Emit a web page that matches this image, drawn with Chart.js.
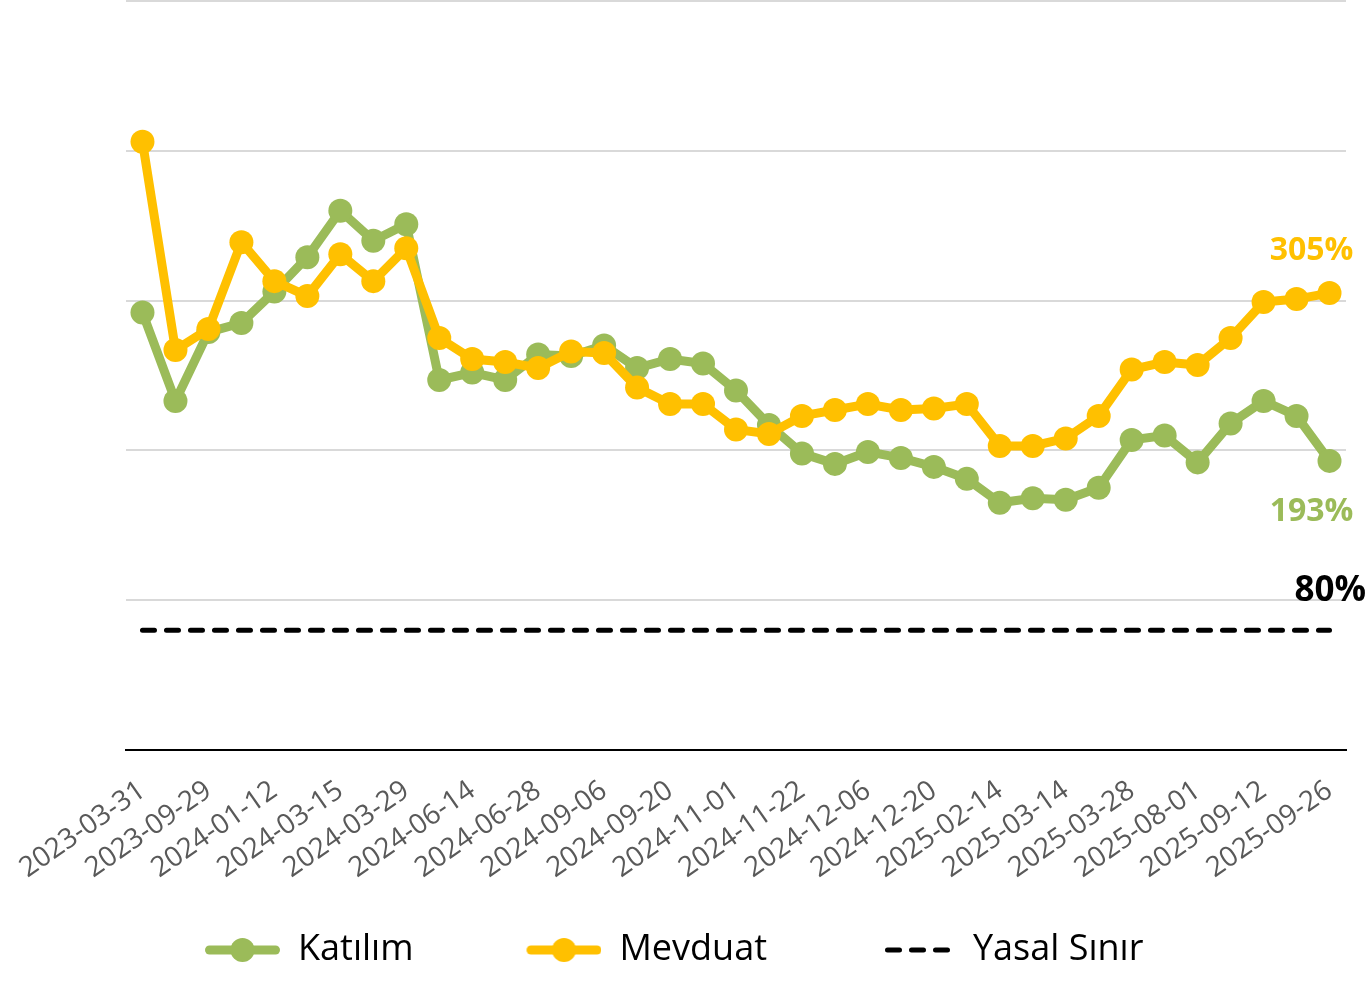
<!DOCTYPE html>
<html>
<head>
<meta charset="utf-8">
<script src="https://cdn.jsdelivr.net/npm/chart.js@4.4.1/dist/chart.umd.min.js"></script>
<style>
  html, body { margin: 0; padding: 0; background: #ffffff; }
  #wrap { width: 1365px; height: 983px; position: relative; }
</style>
</head>
<body>
<div id="wrap"><canvas id="c" width="1365" height="983"></canvas></div>
<script>
// ---- data ----
const categories = [
  '2023-03-31','2023-06-30','2023-09-29','2023-12-29','2024-01-12','2024-02-16',
  '2024-03-15','2024-03-22','2024-03-29','2024-05-31','2024-06-14','2024-06-21',
  '2024-06-28','2024-08-30','2024-09-06','2024-09-13','2024-09-20','2024-10-25',
  '2024-11-01','2024-11-15','2024-11-22','2024-11-29','2024-12-06','2024-12-13',
  '2024-12-20','2025-01-31','2025-02-14','2025-02-28','2025-03-14','2025-03-21',
  '2025-03-28','2025-06-27','2025-08-01','2025-08-29','2025-09-12','2025-09-19',
  '2025-09-26'
];
const katilim = [
  292, 233, 279, 285, 306, 329, 360, 340, 351, 247, 252, 247,
  264, 263, 270, 255, 261, 258, 240, 217, 198, 191, 199, 195,
  189, 181, 165, 168, 167, 175, 207, 210, 192, 218, 233, 223,
  193
];
const mevduat = [
  406, 267, 281, 339, 313, 303, 331, 313, 335, 275, 261, 259,
  255, 266, 265, 242, 231, 231, 214, 211, 223, 227, 231, 227,
  228, 231, 203, 203, 208, 223, 254, 259, 257, 275, 299, 301,
  305
];
const yasalSinirValue = 80;
const yasalSinir = categories.map(() => yasalSinirValue);
const seriesNames = ['Katılım', 'Mevduat', 'Yasal Sınır'];
const yTicks = [0, 100, 200, 300, 400, 500];

// ---- styles ----
const GREEN = '#9BBB59';
const YELLOW = '#FFC000';
const FONT = "'Open Sans', 'Noto Sans', sans-serif";
const LEGEND_BOX = 178;

function makeLegendMarker(kind, color) {
  const cv = document.createElement('canvas');
  cv.width = LEGEND_BOX; cv.height = 30;
  const g = cv.getContext('2d');
  const cy = 15;
  if (kind === 'dash') {
    g.strokeStyle = color; g.lineWidth = 5; g.lineCap = 'round';
    g.setLineDash([12, 12]);
    g.beginPath(); g.moveTo(LEGEND_BOX - 70 + 2.5, cy); g.lineTo(LEGEND_BOX - 4, cy); g.stroke();
  } else {
    g.strokeStyle = color; g.lineWidth = 9; g.lineCap = 'round';
    g.beginPath(); g.moveTo(LEGEND_BOX - 75 + 4.5, cy); g.lineTo(LEGEND_BOX - 4.5, cy); g.stroke();
    g.fillStyle = color;
    g.beginPath(); g.arc(LEGEND_BOX - 37.5, cy, 12, 0, Math.PI * 2); g.fill();
  }
  return cv;
}
const legendMarkers = [
  makeLegendMarker('line', GREEN),
  makeLegendMarker('line', YELLOW),
  makeLegendMarker('dash', '#000000')
];

const endLabels = {
  id: 'endLabels',
  afterDatasetsDraw(chart) {
    const ctx = chart.ctx;
    const last = categories.length - 1;
    const xs = chart.scales.x, ys = chart.scales.y;
    const px = xs.getPixelForValue(last);
    ctx.save();
    ctx.textBaseline = 'middle';
    // Mevduat
    ctx.font = "bold 32px " + FONT;
    ctx.textAlign = 'center';
    ctx.fillStyle = YELLOW;
    ctx.fillText(Math.round(mevduat[last]) + '%', px - 18, ys.getPixelForValue(mevduat[last]) - 42);
    // Katilim
    ctx.fillStyle = GREEN;
    ctx.fillText(Math.round(katilim[last]) + '%', px - 18, ys.getPixelForValue(katilim[last]) + 51);
    // Yasal sinir
    ctx.font = "bold 35px " + FONT;
    ctx.textAlign = 'left';
    ctx.fillStyle = '#000000';
    ctx.fillText(yasalSinirValue + '%', px - 35, ys.getPixelForValue(yasalSinirValue) - 39);
    ctx.restore();
  }
};

new Chart(document.getElementById('c'), {
  type: 'line',
  data: {
    labels: categories,
    datasets: [
      {
        label: seriesNames[0], data: katilim, order: 2,
        borderColor: GREEN, backgroundColor: GREEN,
        borderWidth: 9, pointRadius: 12, pointBorderWidth: 0,
        pointBackgroundColor: GREEN, pointHoverRadius: 12, tension: 0
      },
      {
        label: seriesNames[1], data: mevduat, order: 1,
        borderColor: YELLOW, backgroundColor: YELLOW,
        borderWidth: 9, pointRadius: 12, pointBorderWidth: 0,
        pointBackgroundColor: YELLOW, pointHoverRadius: 12, tension: 0
      },
      {
        label: seriesNames[2], data: yasalSinir, order: 0,
        borderColor: '#000000', backgroundColor: '#000000',
        borderWidth: 5, borderDash: [12, 12], borderCapStyle: 'round',
        pointRadius: 0, pointHoverRadius: 0, tension: 0
      }
    ]
  },
  options: {
    responsive: false,
    animation: false,
    devicePixelRatio: 1,
    layout: { autoPadding: false, padding: { left: 92, right: 19, top: 1, bottom: 5 } },
    plugins: {
      tooltip: { enabled: false },
      legend: {
        position: 'bottom',
        align: 'start',
        labels: {
          usePointStyle: true,
          pointStyleWidth: LEGEND_BOX,
          padding: 10,
          color: '#000000',
          font: { family: FONT, size: 36 },
          generateLabels(chart) {
            return chart.data.datasets.map((ds, i) => ({
              text: ds.label,
              pointStyle: legendMarkers[i],
              fillStyle: ds.borderColor,
              strokeStyle: ds.borderColor,
              lineWidth: 0,
              hidden: false,
              datasetIndex: i,
              fontColor: '#000000'
            }));
          }
        }
      }
    },
    scales: {
      x: {
        offset: true,
        grid: { display: false, drawTicks: false },
        border: { display: true, color: '#000000', width: 2 },
        ticks: {
          autoSkip: false,
          minRotation: 35, maxRotation: 35,
          padding: 24,
          color: '#595959',
          font: { family: FONT, size: 28 },
          callback(value, index) { return index % 2 === 0 ? categories[index] : ''; }
        },
        afterFit(scale) {
          scale.height = 172;
          scale.paddingLeft = 0;
          scale.paddingRight = 0;
        }
      },
      y: {
        min: yTicks[0], max: yTicks[yTicks.length - 1],
        afterBuildTicks(scale) { scale.ticks = yTicks.map(v => ({ value: v })); },
        grid: { color: '#D9D9D9', lineWidth: 2, drawTicks: false },
        border: { display: false },
        ticks: { display: false },
        afterFit(scale) { scale.width = 34; }
      }
    }
  },
  plugins: [endLabels]
});
</script>
</body>
</html>
